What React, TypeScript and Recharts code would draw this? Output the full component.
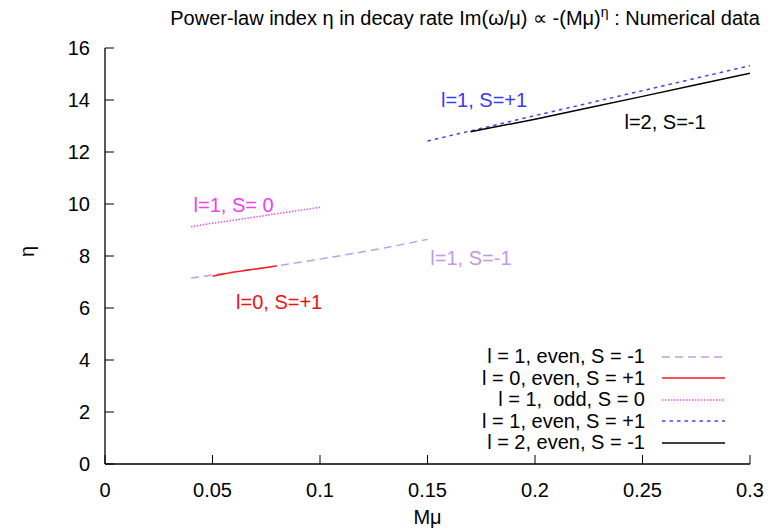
import React from 'react';
import { ComposedChart, Line, XAxis, YAxis, ReferenceDot } from 'recharts';

// l = 1, even, S = -1
const evenSm1X = [0.04, 0.05, 0.06, 0.07, 0.08, 0.09, 0.1, 0.11, 0.12, 0.13, 0.14, 0.15];
const evenSm1Y = [7.15, 7.27, 7.39, 7.5, 7.62, 7.75, 7.88, 8.02, 8.16, 8.31, 8.47, 8.64];
// l = 0, even, S = +1
const l0X = [0.05, 0.055, 0.06, 0.065, 0.07, 0.075, 0.08];
const l0Y = [7.22, 7.31, 7.38, 7.44, 7.5, 7.56, 7.62];
// l = 1, odd, S = 0
const oddX = [0.04, 0.05, 0.06, 0.07, 0.08, 0.09, 0.1];
const oddY = [9.13, 9.26, 9.38, 9.5, 9.63, 9.75, 9.87];
// l = 1, even, S = +1
const evenSp1X = [0.15, 0.175, 0.2, 0.225, 0.25, 0.275, 0.3];
const evenSp1Y = [12.42, 12.91, 13.4, 13.88, 14.36, 14.84, 15.32];
// l = 2, even, S = -1
const l2X = [0.17, 0.18, 0.19, 0.2, 0.225, 0.25, 0.275, 0.3];
const l2Y = [12.78, 12.94, 13.1, 13.26, 13.7, 14.14, 14.59, 15.03];

const xTicks = [0, 0.05, 0.1, 0.15, 0.2, 0.25, 0.3];
const yTicks = [0, 2, 4, 6, 8, 10, 12, 14, 16];

const zip = (xs: number[], ys: number[]) => xs.map((x, i) => ({ x, y: ys[i] }));

const FONT = "'Liberation Sans', Arial, Helvetica, sans-serif";
const FS = 20;

const series = [
  { name: 'l = 1, even, S = -1', data: zip(evenSm1X, evenSm1Y), color: '#c09ee8', dash: '8 5', w: 1.5 },
  { name: 'l = 0, even, S = +1', data: zip(l0X, l0Y), color: '#ff1a1a', dash: undefined, w: 1.5 },
  { name: 'l = 1,  odd, S = 0', data: zip(oddX, oddY), color: '#f050f0', dash: '1.5 1.5', w: 1.5 },
  { name: 'l = 1, even, S = +1', data: zip(evenSp1X, evenSp1Y), color: '#4444ee', dash: '3.5 4', w: 1.5 },
  { name: 'l = 2, even, S = -1', data: zip(l2X, l2Y), color: '#000000', dash: undefined, w: 1.5 },
];

const annotations = [
  { x: 0.1763, y: 14.0, text: 'l=1, S=+1', color: '#3a3aee' },
  { x: 0.2605, y: 13.17, text: 'l=2, S=-1', color: '#000000' },
  { x: 0.0598, y: 9.96, text: 'l=1, S= 0', color: '#f040f0' },
  { x: 0.081, y: 6.24, text: 'l=0, S=+1', color: '#ee1111' },
  { x: 0.1702, y: 7.92, text: 'l=1, S=-1', color: '#bf9be6' },
];

const fmtX = (v: number) => (v === 0 ? '0' : String(v));

const LeftTick = (p: any) => (
  <g>
    <line x1={p.x} x2={p.x + 9} y1={p.y} y2={p.y} stroke="#000" strokeWidth={1} />
    <text x={p.x - 15} y={p.y} dy={7} textAnchor="end" fontSize={FS} fontFamily={FONT} fill="#000">
      {p.payload.value}
    </text>
  </g>
);
const BottomTick = (p: any) => (
  <g>
    <line x1={p.x} x2={p.x} y1={p.y} y2={p.y - 9} stroke="#000" strokeWidth={1} />
    <text x={p.x} y={p.y} dy={33} textAnchor="middle" fontSize={FS} fontFamily={FONT} fill="#000">
      {fmtX(p.payload.value)}
    </text>
  </g>
);
const TopTick = (p: any) => (
  <line x1={p.x} x2={p.x} y1={p.y} y2={p.y + 9} stroke="#000" strokeWidth={1} />
);
const RightTick = (p: any) => (
  <line x1={p.x} x2={p.x - 9} y1={p.y} y2={p.y} stroke="#000" strokeWidth={1} />
);

export default function App() {
  return (
    <div style={{ position: 'absolute', left: 0, top: 0, width: 781, height: 531, background: '#fff', fontFamily: FONT }}>
      <ComposedChart width={781} height={531} margin={{ top: 48, right: 31, bottom: 27, left: 45 }}>
        <XAxis
          xAxisId="b"
          type="number"
          dataKey="x"
          domain={[0, 0.3]}
          ticks={xTicks}
          allowDataOverflow
          height={40}
          tickSize={0}
          tickMargin={0}
          tickLine={false}
          axisLine={{ stroke: '#000', strokeWidth: 1.3 }}
          tick={BottomTick}
        />
        <XAxis
          xAxisId="t"
          orientation="top"
          type="number"
          dataKey="x"
          domain={[0, 0.3]}
          ticks={xTicks}
          allowDataOverflow
          height={0}
          tickSize={0}
          tickMargin={0}
          tickLine={false}
          axisLine={{ stroke: '#000', strokeWidth: 1.3 }}
          tick={TopTick}
        />
        <YAxis
          yAxisId="l"
          type="number"
          domain={[0, 16]}
          ticks={yTicks}
          allowDataOverflow
          width={60}
          tickSize={0}
          tickMargin={0}
          tickLine={false}
          axisLine={{ stroke: '#000', strokeWidth: 1.3 }}
          tick={LeftTick}
        />
        <YAxis
          yAxisId="r"
          orientation="right"
          type="number"
          domain={[0, 16]}
          ticks={yTicks}
          allowDataOverflow
          width={0}
          tickSize={0}
          tickMargin={0}
          tickLine={false}
          axisLine={{ stroke: '#000', strokeWidth: 1.3 }}
          tick={RightTick}
        />
        {series.map((s) => (
          <Line
            key={s.name}
            xAxisId="b"
            yAxisId="l"
            data={s.data}
            dataKey="y"
            type="linear"
            stroke={s.color}
            strokeWidth={s.w}
            strokeDasharray={s.dash}
            dot={false}
            activeDot={false}
            isAnimationActive={false}
          />
        ))}
        {annotations.map((a) => (
          <ReferenceDot
            key={a.text}
            xAxisId="b"
            yAxisId="l"
            x={a.x}
            y={a.y}
            r={0}
            fill="none"
            stroke="none"
            label={{ value: a.text, position: 'center', fill: a.color, fontSize: FS, fontFamily: FONT }}
          />
        ))}
      </ComposedChart>

      <div style={{ position: 'absolute', top: 4, left: 0, width: 930, textAlign: 'center', fontSize: FS }}>
        Power-law index η in decay rate Im(ω/μ) ∝ -(Mμ)<sup style={{ fontSize: 14 }}>η</sup> : Numerical data
      </div>
      <div style={{ position: 'absolute', top: 506, left: 105, width: 645, textAlign: 'center', fontSize: FS }}>Mμ</div>
      <div style={{ position: 'absolute', top: 240, left: 22, fontSize: FS, transform: 'rotate(-90deg)' }}>η</div>

      <div style={{ position: 'absolute', left: 425, top: 346, width: 300 }}>
        {series.map((s) => (
          <div key={s.name} style={{ display: 'flex', alignItems: 'center', height: 21.5, justifyContent: 'flex-end' }}>
            <span style={{ fontSize: FS, whiteSpace: 'pre', marginRight: 17 }}>{s.name}</span>
            <svg width={63} height={10}>
              <line x1={0} x2={63} y1={5} y2={5} stroke={s.color} strokeWidth={1.5} strokeDasharray={s.dash} />
            </svg>
          </div>
        ))}
      </div>
    </div>
  );
}
